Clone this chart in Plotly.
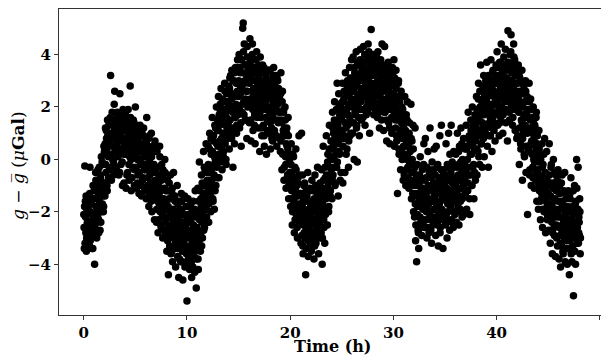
import plotly.graph_objects as go

# sampling interval of the gravimeter record (hours); samples_a on the grid,
# samples_b half a step later. Values are g - gbar in microGal.
sample_interval_h = 0.05

samples_a = [
    -2.1,-3.4,-0.25,-1.6,-2.8,-3.5,-1.9,-2.4,-3.1,-1.5,-2.6,-3.3,-0.3,-2.0,-2.9,-1.7,-3.4,-2.3,-1.0,-2.7,
    -1.2,-4.0,-2.5,-0.5,-1.8,-3.0,-0.9,-2.2,-1.4,-2.8,-0.3,-1.9,-0.6,-2.4,0.1,-1.1,-1.7,-0.2,-2.0,0.5,
    0.3,-1.4,1.2,-0.5,0.8,-1.0,1.5,0.2,-0.7,1.0,0.6,1.4,3.2,-0.3,0.9,1.8,0.0,1.3,-0.6,2.1,
    2.6,0.5,1.2,-0.4,0.9,1.8,0.2,1.4,-0.6,0.7,2.5,1.1,-0.2,1.6,0.4,-1.0,1.9,0.8,-0.9,1.3,
    0.6,1.7,-1.1,0.3,1.2,-0.5,1.9,0.9,-0.8,0.1,2.8,1.4,-1.2,0.5,1.0,-0.3,1.5,0.7,-1.0,0.2,
    2.0,0.4,-1.1,1.2,0.0,-0.6,0.9,-1.3,0.6,1.3,-0.2,0.3,-1.4,1.0,-0.8,0.5,1.2,-0.4,0.1,-1.2,
    0.8,-1.5,1.6,-0.3,-1.0,0.4,-1.8,0.9,-0.6,-1.3,0.2,1.0,-2.0,-0.9,0.5,-1.5,-0.2,-2.3,0.7,-1.1,
    -0.5,-2.4,0.3,-1.6,-2.8,-0.9,-1.3,0.5,-2.0,-1.1,-2.6,-0.2,-1.8,-3.0,-0.7,-1.5,-2.2,0.0,-2.9,-1.2,
    -1.9,-3.5,-0.8,-2.7,-4.4,-1.5,-3.0,-2.2,-0.6,-3.6,-2.5,-1.3,-3.9,-2.0,-0.5,-2.9,-3.4,-1.6,-4.1,-2.4,
    -2.8,-1.0,-3.7,-2.3,-4.5,-1.6,-3.2,-2.6,-3.9,-1.3,-2.0,-3.5,-4.6,-2.9,-1.5,-3.3,-4.1,-2.4,-1.8,-3.6,
    -5.4,-3.0,-1.5,-3.8,-2.4,-4.2,-2.9,-1.7,-3.4,-4.5,-2.2,-3.1,-1.6,-3.7,-2.6,-4.3,-1.2,-2.9,-4.9,-2.0,
    -3.2,-1.1,-4.2,-2.0,-0.1,-2.8,-3.5,-1.5,-0.6,-2.4,-3.0,-1.0,0.3,-1.9,-2.6,-0.4,-1.3,0.6,-2.2,-0.8,
    -1.6,0.5,-2.4,-0.5,1.0,-1.2,-2.0,0.2,-0.8,1.6,-1.5,0.7,-0.2,-1.9,1.3,0.0,-1.0,2.0,-0.3,1.1,
    0.5,2.4,-0.7,1.3,1.9,0.0,2.7,0.8,-0.4,1.6,2.2,0.3,1.0,2.9,0.6,1.8,-0.2,2.5,1.2,0.9,
    1.4,2.8,0.4,3.1,1.9,0.9,2.3,3.4,1.2,-0.3,2.0,3.0,0.6,1.6,3.5,2.5,1.0,2.9,3.8,1.7,
    2.4,4.0,1.2,3.3,2.7,0.5,3.8,1.8,5.0,5.2,2.2,4.4,3.0,1.5,3.6,2.6,0.8,4.3,2.0,3.1,
    3.5,1.4,4.6,2.3,0.7,3.0,2.0,4.4,1.1,2.7,3.8,1.7,0.6,3.3,2.5,4.1,1.9,2.9,1.2,3.6,
    2.4,0.3,3.9,1.6,2.8,0.9,3.3,2.1,1.3,3.5,0.5,2.6,1.9,3.1,0.2,2.3,1.5,3.4,2.7,1.0,
    1.8,3.4,0.4,2.5,1.2,2.9,0.7,2.1,3.5,1.5,0.9,2.7,3.2,1.9,0.5,2.3,3.0,1.4,2.6,0.8,
    2.2,0.3,3.3,1.5,-0.4,2.6,0.9,1.8,-0.8,1.2,2.0,0.1,-1.1,1.0,0.5,-0.6,1.6,-1.5,0.2,-0.9,
    -0.5,-1.8,0.6,-1.2,-2.5,0.2,-0.9,-1.6,-2.8,-0.3,-1.4,0.4,-2.1,-1.0,-3.0,-0.7,-1.9,0.9,-2.4,-1.3,
    -1.7,-3.2,1.0,-2.4,-0.6,-3.6,-1.5,-2.8,-0.9,-2.1,-4.4,-1.2,-3.0,-2.5,-0.5,-3.7,-1.9,-2.7,-1.1,-3.3,
    -2.2,-3.5,-0.8,-1.6,-2.9,-1.1,-3.8,-2.4,-0.6,-1.9,-3.2,-2.7,-1.3,-0.3,-2.0,-3.6,-1.5,-2.6,-0.9,-3.0,
    -2.8,-0.4,-4.0,-1.7,0.5,-2.3,-1.1,-3.2,-0.7,-2.0,0.9,-1.4,-2.5,0.2,-0.9,-1.8,1.3,-0.3,-1.2,0.7,
    0.4,-1.5,1.8,-0.6,1.0,0.1,2.2,-1.0,1.4,0.6,-0.3,2.9,1.1,-1.4,2.5,0.3,1.7,-0.8,2.0,0.8,
    1.5,2.9,-0.9,0.8,2.3,1.9,-0.5,3.3,1.2,2.6,0.4,3.0,1.7,-0.3,2.1,3.5,0.9,2.7,1.4,3.8,
    2.6,1.0,3.9,2.1,0.0,3.3,1.7,2.9,4.1,1.3,-0.1,2.4,3.6,1.9,0.9,3.0,4.2,2.2,1.5,3.4,
    3.1,1.6,4.3,2.5,3.7,1.3,2.9,4.0,2.0,3.4,1.8,4.4,2.7,3.2,1.0,3.9,2.3,4.95,3.5,2.1,
    2.8,4.0,1.7,3.3,2.4,3.8,1.9,2.9,3.5,1.6,4.1,2.6,3.0,1.2,3.7,2.2,3.4,1.5,4.4,2.7,
    3.2,1.1,2.7,4.3,1.8,3.6,2.3,0.7,3.0,2.0,3.7,1.4,2.6,0.6,3.3,1.9,2.9,1.0,3.5,2.4,
    2.1,3.8,0.5,2.8,1.5,3.4,0.9,2.4,-1.3,1.8,3.0,0.2,2.2,1.1,-0.4,2.6,1.4,0.0,1.9,-0.8,
    1.2,-0.6,2.4,0.5,-1.0,1.7,0.0,2.2,-0.3,0.9,-1.1,1.4,-0.8,0.4,2.1,-1.5,0.7,-0.2,1.3,-2.0,
    -0.5,-2.2,1.2,-3.1,-1.3,-3.9,-0.2,-1.8,-2.7,-3.4,-0.9,-1.5,0.1,-2.4,-1.1,-2.9,-0.4,-1.9,-2.5,0.6,
    -1.4,-2.6,0.8,-0.7,-2.0,-3.0,-1.1,0.3,-1.7,-2.8,-0.4,1.2,-2.3,-1.0,-3.2,-0.1,-1.6,-2.5,-0.9,0.4,
    -1.9,-0.6,-2.9,0.5,-1.3,-2.4,-0.2,-3.3,-1.0,-1.7,0.9,-2.6,-0.8,1.3,-2.1,-1.4,-3.4,-0.4,-2.2,-1.1,
    -0.9,-2.5,0.6,-1.6,-3.0,-0.3,-2.0,1.0,-1.2,-2.7,-0.6,-1.8,1.3,-2.3,-0.1,-1.4,-2.6,0.3,-1.0,-2.1,
    -1.3,0.2,-2.4,-0.7,1.0,-1.8,-0.2,-2.5,0.5,-1.1,-1.6,1.2,-0.5,-2.2,0.0,-1.4,0.8,-0.9,-2.0,0.4,
    -0.4,1.3,-1.9,0.5,-1.2,1.8,-0.6,0.9,-2.1,0.2,1.5,-1.0,0.7,2.0,-0.3,1.1,-1.5,0.4,1.7,-0.8,
    0.8,2.4,-0.6,1.5,0.3,2.9,1.1,-0.2,2.0,3.6,0.6,1.7,-0.3,2.6,1.3,3.2,0.1,2.2,1.0,3.0,
    1.8,3.7,0.5,2.4,-0.3,3.1,1.4,2.8,0.9,3.8,2.1,0.3,1.6,3.4,2.6,1.1,3.0,0.7,2.3,3.6,
    2.5,4.1,1.3,3.2,2.0,0.9,3.7,2.8,1.6,4.4,2.3,3.4,1.0,2.9,3.9,1.8,2.6,4.2,1.4,3.1,
    3.5,0.7,4.9,2.4,3.0,1.5,4.0,2.7,4.75,1.9,3.3,1.3,2.2,4.4,2.9,3.8,1.1,2.5,3.5,0.8,
    2.6,0.9,3.6,1.8,-0.2,3.1,2.2,0.4,1.5,3.4,-0.8,2.0,1.0,2.8,0.1,1.6,3.0,-0.5,1.2,2.4,
    -2.1,1.9,0.3,2.9,-0.6,1.2,2.3,-1.0,0.7,1.6,-0.3,2.0,0.0,-1.1,1.3,0.5,-0.8,1.8,-1.6,0.9,
    -0.4,-1.9,1.1,-1.2,0.2,-2.3,-0.8,-1.5,0.6,-2.6,-0.2,-1.0,-2.0,0.8,-1.4,-2.8,-0.6,0.3,-1.7,-2.2,
    -1.3,-2.7,0.6,-0.9,-3.2,-1.8,-0.2,-2.4,-3.6,-1.1,0.0,-2.0,-2.9,-1.5,-3.7,-0.6,-2.5,-1.2,-3.3,-0.4,
    -2.2,-3.8,-1.0,-2.9,-4.1,-1.6,-3.3,-0.6,-2.5,-3.6,-1.9,-2.8,-0.5,-3.9,-2.1,-1.4,-3.1,-4.0,-2.6,-1.2,
    -2.3,-4.4,-1.3,-3.4,-0.7,-2.7,-3.9,-1.8,-2.1,-5.2,-3.0,-1.0,-2.5,-4.0,-1.6,0.0,-3.2,-2.0,-0.3,-2.8,
    -2.4,-1.5,-3.6,
]

samples_b = [
    -2.6,-1.8,-3.2,-2.2,-1.4,-3.0,-2.5,-1.9,-3.3,-2.0,-2.7,-1.3,-3.1,-2.4,-1.7,-2.9,-2.1,-3.4,-1.5,-2.3,
    -2.6,-1.5,-2.1,-0.8,-2.9,-1.2,-1.9,-0.4,-2.3,-1.0,-1.6,-2.7,-0.7,-1.3,-2.0,-0.1,-1.4,-0.9,-1.8,0.2,
    -0.9,0.6,-0.2,1.1,0.4,-1.2,0.9,0.1,1.3,-0.4,0.7,1.6,0.2,-0.8,1.0,0.5,1.4,-0.1,0.8,1.2,
    0.3,1.5,-0.3,1.0,0.6,1.7,0.1,1.2,0.8,-0.5,1.4,0.4,1.0,1.8,-0.1,0.7,1.3,0.2,1.6,0.5,
    1.1,0.2,1.5,-0.6,0.8,0.4,1.3,-0.2,1.0,0.6,1.6,0.0,0.9,-0.7,1.2,0.3,0.7,1.4,-0.4,0.5,
    0.7,-0.3,1.1,0.2,-0.9,0.8,0.4,-0.5,1.0,0.0,-1.0,0.6,0.3,-0.2,0.9,-0.7,0.5,-1.1,0.1,-0.4,
    -0.2,0.6,-1.2,0.2,-0.7,0.8,-1.4,-0.1,0.4,-0.9,-1.6,0.1,-0.5,-1.1,0.5,-0.3,-1.3,0.3,-0.8,-1.5,
    -1.0,-1.9,-0.3,-1.4,-2.3,-0.6,-1.7,0.1,-1.2,-2.5,-0.8,-1.5,-2.1,-0.4,-1.9,-2.7,-1.1,-0.5,-2.4,-1.6,
    -2.2,-1.2,-3.1,-1.8,-2.6,-0.9,-3.3,-2.0,-1.5,-2.8,-3.5,-1.1,-2.3,-1.9,-3.0,-2.6,-1.4,-3.2,-2.1,-2.9,
    -2.5,-3.4,-1.7,-3.0,-2.2,-3.8,-1.9,-2.7,-3.3,-1.6,-2.4,-3.9,-2.1,-3.1,-2.8,-1.4,-3.5,-2.6,-4.0,-2.3,
    -3.3,-2.1,-4.0,-2.7,-3.5,-1.8,-3.0,-2.4,-3.9,-2.0,-3.2,-4.1,-2.5,-3.6,-1.9,-2.8,-3.4,-2.2,-3.8,-2.6,
    -2.7,-3.8,-1.6,-3.1,-2.3,-1.2,-2.9,-1.8,-3.3,-0.9,-2.1,-1.4,-2.7,-0.3,-1.7,-2.4,-1.0,-1.9,-0.5,-1.4,
    -1.1,-0.2,-1.7,0.4,-0.8,-1.4,0.8,-0.4,-1.0,0.3,-1.6,0.9,-0.6,0.1,-1.2,1.2,-0.1,0.6,-0.7,1.5,
    1.1,0.2,1.7,0.7,2.1,-0.1,1.4,0.4,2.3,1.0,0.1,1.9,0.6,2.6,1.3,0.0,1.6,2.2,0.8,2.0,
    2.2,1.0,2.7,1.5,3.2,2.0,0.8,2.5,1.8,3.0,1.1,2.4,3.3,1.6,2.1,2.9,1.3,2.6,3.5,2.0,
    3.0,1.9,3.5,2.5,1.4,3.8,2.8,2.1,3.3,4.1,1.7,2.9,3.6,2.3,1.5,3.2,2.6,3.9,2.2,3.4,
    2.9,2.1,3.7,1.5,3.2,2.6,4.0,1.9,2.4,3.5,1.3,3.0,2.2,3.8,2.7,1.6,3.4,2.0,3.1,2.5,
    2.9,1.8,3.3,2.2,1.2,2.7,3.6,1.9,2.4,0.9,3.0,2.1,1.6,3.2,2.5,1.1,2.8,2.0,3.4,1.5,
    2.3,1.4,3.0,2.0,0.8,2.6,1.7,3.2,2.2,1.1,2.8,1.9,2.4,0.9,3.1,2.1,1.5,2.7,1.8,2.3,
    1.8,2.5,0.7,1.4,2.2,0.2,1.1,1.9,-0.3,0.9,1.5,-0.2,0.6,1.2,-0.7,0.4,0.9,-1.0,0.0,-0.5,
    -0.8,-0.2,-1.5,-0.6,-2.0,-1.1,0.1,-1.6,-0.7,-2.3,-1.2,-0.4,-1.8,-2.6,-0.9,-1.4,-2.2,-0.6,-1.7,-2.0,
    -2.2,-1.3,-2.9,-1.8,-3.3,-2.5,-1.0,-2.0,-3.0,-1.6,-2.6,-3.4,-1.4,-2.3,-3.1,-2.0,-1.2,-2.9,-2.4,-1.7,
    -2.5,-1.8,-3.1,-1.2,-2.3,-2.8,-1.5,-3.3,-2.0,-1.0,-2.6,-1.7,-3.0,-2.2,-1.3,-2.9,-1.9,-2.4,-1.1,-2.1,
    -2.3,-1.4,-3.0,-1.9,-0.8,-2.6,-1.2,-0.3,-2.1,-1.5,-0.6,-1.9,-0.1,-1.1,-2.0,0.4,-0.7,-1.4,0.1,-0.4,
    0.0,-0.7,1.2,0.5,-0.3,1.5,0.8,-0.9,0.3,1.9,0.9,-0.1,1.3,0.6,2.1,0.2,1.6,1.0,-0.5,1.8,
    1.1,2.2,0.5,1.7,2.6,0.9,1.4,2.4,0.2,1.9,2.8,1.3,2.1,0.7,2.5,1.6,3.1,1.0,2.3,2.9,
    2.0,3.1,1.4,2.6,3.5,1.8,2.3,3.0,1.2,2.8,3.7,2.1,1.6,3.2,2.5,3.8,1.9,2.7,3.3,2.4,
    2.6,3.5,1.9,3.0,4.0,2.4,3.3,1.7,2.8,3.8,2.2,3.1,4.1,2.5,3.6,2.0,3.3,2.9,3.9,2.6,
    3.2,2.3,3.7,2.8,1.9,3.4,2.5,3.9,2.1,3.0,2.7,3.6,1.8,3.2,2.4,3.8,2.9,2.0,3.4,3.1,
    2.6,3.3,1.8,2.9,2.2,3.5,1.5,2.7,3.1,2.0,2.4,3.4,1.2,2.8,2.2,3.0,1.6,2.5,3.2,1.9,
    2.5,1.7,3.1,2.0,1.2,2.7,0.7,2.2,1.5,2.9,0.4,1.8,2.4,1.0,1.6,0.3,2.0,0.8,1.3,0.5,
    0.9,1.6,0.2,1.1,-0.4,0.7,1.5,0.1,-0.7,0.6,1.0,-0.2,0.3,-0.9,0.8,-0.5,0.0,-1.3,0.4,-0.8,
    -1.0,-0.3,-1.7,-2.5,-0.7,-1.4,-2.1,-1.0,-2.8,-1.6,-0.6,-2.2,-1.3,-2.6,-0.8,-1.7,-2.3,-1.1,-0.2,-1.5,
    -1.8,-0.8,-2.3,-1.3,-0.3,-1.9,-2.6,-1.0,-1.5,-0.5,-2.1,-1.2,-2.7,-0.7,-1.6,-2.2,-1.1,-0.4,-1.9,-1.4,
    -1.5,-2.2,-0.9,-1.8,-0.3,-2.5,-1.2,-2.0,-0.7,-1.6,-2.8,-1.0,-0.4,-1.9,-2.3,-1.3,-0.6,-2.0,-1.5,-0.8,
    -1.4,-0.6,-2.1,-1.1,-0.2,-1.7,-2.3,-0.8,-1.3,0.2,-1.9,-0.5,-1.5,-2.4,-0.9,-0.3,-1.6,-1.1,-2.0,-0.7,
    -0.9,-1.6,-0.3,-1.2,-2.0,-0.6,0.3,-1.4,-0.8,-1.9,-0.1,-1.1,0.6,-1.5,-0.4,-1.0,-2.1,-0.2,-0.7,-1.3,
    -0.6,0.4,-1.2,0.0,-0.9,0.8,-0.3,-1.5,0.6,-0.6,1.1,0.2,-1.0,0.5,1.3,-0.2,0.9,-0.5,0.7,1.4,
    1.2,0.4,1.9,0.9,2.3,0.1,1.5,2.6,1.0,1.8,0.6,2.2,1.4,2.8,0.8,1.7,2.4,1.1,2.0,2.7,
    2.2,1.3,2.8,1.9,3.2,0.9,2.5,1.6,3.0,2.0,1.2,2.7,3.3,1.8,2.4,1.4,2.9,2.1,3.1,1.7,
    2.9,2.1,3.5,1.8,2.6,3.1,1.4,2.4,3.7,2.0,2.8,3.3,1.7,2.5,3.6,2.2,3.0,1.9,2.7,3.4,
    3.1,2.2,3.7,2.8,1.8,3.4,2.5,4.1,2.0,3.0,3.6,1.6,2.7,3.9,2.3,3.2,1.9,2.9,3.4,2.1,
    2.9,1.9,2.4,3.2,1.2,2.6,0.6,2.1,2.9,1.4,0.8,2.5,1.7,0.2,2.2,1.3,2.6,0.5,1.8,1.0,
    1.6,0.4,1.1,2.2,-0.4,1.5,0.6,1.9,0.2,1.0,-0.7,1.4,0.8,-0.1,1.2,0.3,1.6,-0.5,0.6,0.1,
    -0.1,-1.0,0.4,-0.6,-1.6,0.0,-0.9,-1.3,-0.3,-1.9,-0.7,0.2,-1.2,-2.0,-0.5,-1.1,-1.6,-0.8,-2.3,-1.4,
    -1.0,-1.9,-0.6,-2.3,-1.4,-0.3,-2.1,-1.7,-2.8,-0.9,-1.5,-2.6,-0.5,-1.9,-2.2,-1.2,-3.0,-0.8,-2.0,-1.6,
    -1.9,-2.6,-1.3,-3.2,-2.2,-0.9,-2.8,-1.7,-3.5,-2.4,-1.2,-3.0,-2.0,-2.7,-1.5,-3.4,-2.3,-1.8,-2.9,-2.5,
    -2.0,-3.1,-1.5,-2.6,-3.6,-1.9,-2.3,-3.3,-1.2,-2.8,-2.0,-3.5,-1.7,-2.4,-3.0,-1.1,-2.6,-1.9,-3.2,-2.2,
    -2.9,-2.0,-3.0,
]

time_a = [i * sample_interval_h for i in range(len(samples_a))]
time_b = [i * sample_interval_h + sample_interval_h / 2 for i in range(len(samples_b))]
time_h = [t for pair in zip(time_a, time_b) for t in pair]
g_anomaly = [v for pair in zip(samples_a, samples_b) for v in pair]

x_ticks = [0, 10, 20, 30, 40, 50]
y_ticks = [-4, -2, 0, 2, 4]
y_tick_text = ["\u22124", "\u22122", "0", "2", "4"]

FONT = "DejaVu Serif"

fig = go.Figure(go.Scatter(
    x=time_h, y=g_anomaly, mode="markers",
    marker=dict(color="black", size=7.5, line=dict(width=0)),
    hoverinfo="skip",
))

axis_common = dict(
    showgrid=False, zeroline=False, showline=True, mirror=True,
    linecolor="#333333", linewidth=1, ticks="outside", ticklen=4,
    tickwidth=1, tickcolor="#333333", automargin=False,
    tickfont=dict(family=FONT, size=15, color="black", weight="bold"),
)

# page body has an 8px margin, so the figure is sized to the remaining window
fig.update_layout(
    width=601, height=347,
    margin=dict(l=51, r=3, t=1, b=40),
    paper_bgcolor="white", plot_bgcolor="white",
    showlegend=False,
    xaxis=dict(range=[-2.4, 50.6], tickvals=x_ticks, **axis_common),
    yaxis=dict(range=[-5.93, 5.73], tickvals=y_ticks, ticktext=y_tick_text,
               **axis_common),
    annotations=[
        dict(text="<b>Time (h)</b>", xref="paper", yref="paper",
             x=0.5, y=-0.103, xanchor="center", yanchor="middle",
             showarrow=False, font=dict(family=FONT, size=16, color="black")),
        dict(text="<i>g</i> \u2212 <i>g\u0305</i> (<i>\u03bc</i><b>Gal</b>)",
             xref="paper", yref="paper", x=-0.075, y=0.49,
             xanchor="center", yanchor="middle", textangle=-90,
             showarrow=False, font=dict(family=FONT, size=17, color="black")),
    ],
)

fig.write_html("out.html")
